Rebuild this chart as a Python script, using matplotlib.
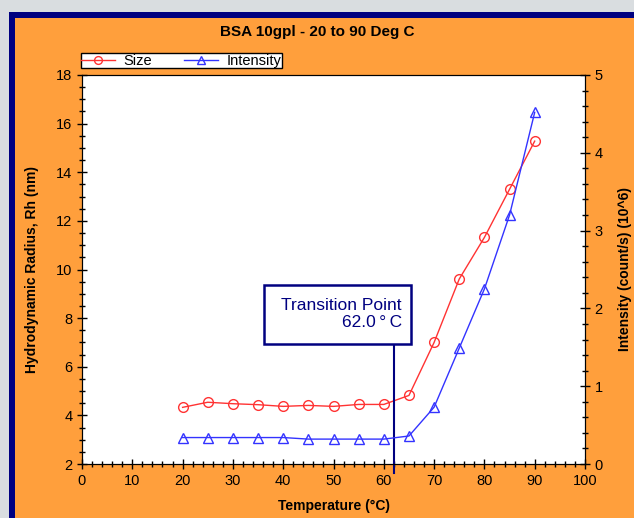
import numpy as np
import matplotlib.pyplot as plt
from matplotlib.patches import Rectangle
from matplotlib.ticker import MultipleLocator

plt.rcParams['font.family'] = ['Liberation Sans', 'DejaVu Sans']

# Data
temperature = [20, 25, 30, 35, 40, 45, 50, 55, 60, 65, 70, 75, 80, 85, 90]
size_nm = [4.33, 4.54, 4.48, 4.44, 4.37, 4.41, 4.37, 4.45, 4.45, 4.82,
           7.0, 9.61, 11.32, 13.3, 15.28]
intensity = [0.34, 0.34, 0.34, 0.34, 0.34, 0.32, 0.32, 0.32, 0.32, 0.36,
             0.73, 1.49, 2.25, 3.2, 4.52]
transition_temp = 62.0

orange = '#FF9F3C'
navy = '#000080'
red = '#FF3333'
blue = '#3333FF'

fig = plt.figure(figsize=(6.34, 5.18), dpi=100)
fig.patch.set_facecolor('#d9dde0')

# background: navy frame and orange panel
bg = fig.add_axes([0, 0, 1, 1], zorder=-10)
bg.set_xlim(0, 634)
bg.set_ylim(518, 0)
bg.axis('off')
bg.add_patch(Rectangle((9, 12), 700, 600, fc=navy, ec='none'))
bg.add_patch(Rectangle((15, 18), 700, 600, fc=orange, ec='none'))

ax = fig.add_axes([82 / 634, 1 - 464 / 518, 503 / 634, 389 / 518])
ax.set_facecolor('white')
ax2 = ax.twinx()

l1, = ax.plot(temperature, size_nm, color=red, lw=1, marker='o', ms=7,
              mfc='none', mec=red, mew=1, label='Size')
l2, = ax2.plot(temperature, intensity, color=blue, lw=1, marker='^', ms=7,
               mfc='none', mec=blue, mew=1, label='Intensity')

ax.set_xlim(0, 100)
ax.set_ylim(2, 18)
ax2.set_ylim(0, 5)

ax.xaxis.set_major_locator(MultipleLocator(10))
ax.xaxis.set_minor_locator(MultipleLocator(2))
ax.yaxis.set_major_locator(MultipleLocator(2))
ax.yaxis.set_minor_locator(MultipleLocator(0.5))
ax2.yaxis.set_major_locator(MultipleLocator(1))
ax2.yaxis.set_minor_locator(MultipleLocator(0.2))

for a in (ax, ax2):
    a.tick_params(which='major', direction='inout', length=7, width=1, labelsize=10.5)
    a.tick_params(which='minor', direction='inout', length=4.5, width=1)
ax.tick_params(top=False, which='both')
ax2.tick_params(top=False, which='both')

ax.set_xlabel('Temperature (°C)', fontsize=10, fontweight='bold', labelpad=8)
ax.set_ylabel('Hydrodynamic Radius, Rh (nm)', fontsize=10, fontweight='bold',
              labelpad=12)
ax2.set_ylabel('Intensity (count/s) (10^6)', fontsize=10, fontweight='bold',
               labelpad=11)

fig.text(0.5, 1 - 32 / 518, 'BSA 10gpl - 20 to 90 Deg C', ha='center', va='center',
         fontsize=11, fontweight='bold')

leg = ax.legend(handles=[l1, l2], loc='lower left', bbox_to_anchor=(-0.016, 1.0),
                ncol=2, fontsize=10.5, frameon=True, fancybox=False, framealpha=1,
                borderpad=0.05, handlelength=2.3, columnspacing=2.2,
                handletextpad=0.6, borderaxespad=0.45, markerscale=0.8)
leg.get_frame().set_edgecolor('black')
leg.get_frame().set_linewidth(1)

# transition point marker: line, box and label
ax.plot([transition_temp, transition_temp], [1.63, 6.93], color=navy, lw=1.5,
        clip_on=False, zorder=5)
ax.add_patch(Rectangle((36.2, 6.93), 29.2, 2.43, fc='white', ec=navy, lw=1.8,
                       zorder=6))
ax.text(63.6, 8.17, 'Transition Point\n%.1f\u2009°\u2009C' % transition_temp,
        ha='right', va='center', multialignment='right', fontsize=12.5,
        color=navy, zorder=7, linespacing=1.15)

fig.savefig('out.png', dpi=100, facecolor=fig.get_facecolor())
